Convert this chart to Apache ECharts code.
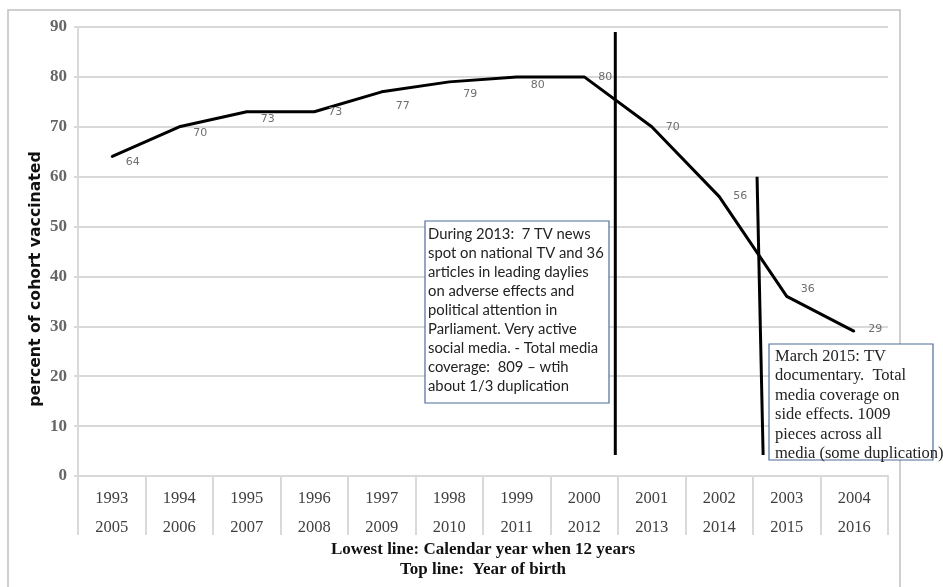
<!DOCTYPE html>
<html>
<head>
<meta charset="utf-8">
<script src="https://cdn.jsdelivr.net/npm/echarts@6/dist/echarts.min.js"></script>
<style>
  html, body { margin: 0; padding: 0; background: #ffffff; overflow: hidden; }
  #chart { width: 943px; height: 587px; }
</style>
</head>
<body>
<div id="chart"></div>
<script>
// Year of birth (upper row) and calendar year at age 12 (lower row)
const birthYears = ['1993', '1994', '1995', '1996', '1997', '1998', '1999', '2000', '2001', '2002', '2003', '2004'];
const calendarYears = ['2005', '2006', '2007', '2008', '2009', '2010', '2011', '2012', '2013', '2014', '2015', '2016'];

// Percent of each birth cohort vaccinated
const vaccinated = [64, 70, 73, 73, 77, 79, 80, 80, 70, 56, 36, 29];

// Y axis ticks
const yTicks = [0, 10, 20, 30, 40, 50, 60, 70, 80, 90];

// Event marker lines, in [category position, percent] units
const event2013Line = [[7.46, 89], [7.46, 4.2]];
const event2015Line = [[9.56, 60], [9.65, 4.2]];

// Annotation texts
const note2013 = [
  'During 2013:  7 TV news',
  'spot on national TV and 36',
  'articles in leading daylies',
  'on adverse effects and',
  'political attention in',
  'Parliament. Very active',
  'social media. - Total media',
  'coverage:  809 \u2013 wtih',
  'about 1/3 duplication'
];
const note2015 = [
  'March 2015: TV',
  'documentary.  Total',
  'media coverage on',
  'side effects. 1009',
  'pieces across all',
  'media (some duplication)'
];

// Vertical nudge (px) of each value label so none sits on the line
const labelNudgeY = [5, 6, 7, 0, 14, 12, 8, 0, 0, 0, -7, -2];

const chart = echarts.init(document.getElementById('chart'), null, { renderer: 'canvas', width: 943, height: 587 });

const gridColor = '#d9d9d9';
const serif = '"Liberation Serif", "Times New Roman", serif';

const lineData = vaccinated.map((v, i) => ({
  value: v,
  label: { offset: [0, labelNudgeY[i]] }
}));

const option = {
  backgroundColor: '#ffffff',
  animation: false,
  grid: { left: 78, width: 810, top: 27, height: 449, containLabel: false, outerBoundsMode: 'none' },
  xAxis: [
    {
      type: 'category',
      data: birthYears,
      boundaryGap: true,
      axisLine: { show: true, onZero: false, lineStyle: { color: gridColor, width: 2 } },
      axisTick: { show: true, length: 59, interval: 0, alignWithLabel: false, lineStyle: { color: gridColor, width: 2 } },
      axisLabel: {
        interval: 0,
        margin: 8,
        fontFamily: serif,
        fontSize: 16.5,
        color: '#404040',
        lineHeight: 29,
        formatter: (v, i) => v + '\n' + calendarYears[i]
      },
      name: 'Lowest line: Calendar year when 12 years\nTop line:  Year of birth',
      nameLocation: 'middle',
      nameGap: 64,
      nameMoveOverlap: false,
      nameTextStyle: { fontFamily: serif, fontWeight: 'bold', fontSize: 17, color: '#111', lineHeight: 20 }
    },
    {
      type: 'value',
      min: -0.5,
      max: 11.5,
      show: false
    }
  ],
  yAxis: {
    type: 'value',
    min: yTicks[0],
    max: yTicks[yTicks.length - 1],
    interval: 10,
    axisLine: { show: true, onZero: false, lineStyle: { color: gridColor, width: 2 } },
    axisTick: { show: true, length: 4, lineStyle: { color: gridColor, width: 2 } },
    splitLine: { show: true, lineStyle: { color: gridColor, width: 2 } },
    axisLabel: { margin: 11, fontFamily: serif, fontSize: 17, fontWeight: 'bold', color: '#666666' }
  },
  series: [
    {
      type: 'line',
      data: lineData,
      xAxisIndex: 0,
      symbol: 'circle',
      symbolSize: 2,
      showSymbol: true,
      itemStyle: { color: '#000' },
      lineStyle: { color: '#000', width: 3 },
      label: {
        show: true,
        position: 'right',
        distance: 13,
        fontFamily: '"DejaVu Sans", sans-serif',
        fontSize: 11,
        color: '#6e6e6e'
      },
      z: 3
    },
    {
      type: 'line',
      data: event2013Line,
      xAxisIndex: 1,
      symbol: 'none',
      silent: true,
      lineStyle: { color: '#000', width: 3 },
      z: 4
    },
    {
      type: 'line',
      data: event2015Line,
      xAxisIndex: 1,
      symbol: 'none',
      silent: true,
      lineStyle: { color: '#000', width: 3 },
      z: 4
    }
  ],
  graphic: [
    {
      type: 'rect',
      shape: { x: 8, y: 10, width: 892, height: 600 },
      style: { fill: 'none', stroke: '#c0c0c0', lineWidth: 1.5 },
      silent: true,
      z: -10
    },
    {
      type: 'text',
      x: 36,
      y: 279,
      rotation: Math.PI / 2,
      style: {
        text: 'percent of cohort vaccinated',
        font: 'bold 15.7px "DejaVu Sans", sans-serif',
        fill: '#111',
        textAlign: 'center',
        textVerticalAlign: 'middle'
      },
      z: 10
    },
    {
      type: 'rect',
      shape: { x: 425, y: 221, width: 184, height: 182 },
      style: { fill: '#ffffff', stroke: '#4f6d9a', lineWidth: 1.2 },
      z: 20
    },
    {
      type: 'text',
      x: 428,
      y: 225,
      style: {
        text: note2013.join('\n'),
        font: '14.8px Lato, "Open Sans", sans-serif',
        lineHeight: 19,
        fill: '#222'
      },
      z: 21
    },
    {
      type: 'rect',
      shape: { x: 769, y: 344, width: 164, height: 116 },
      style: { fill: '#ffffff', stroke: '#4f6d9a', lineWidth: 1.2 },
      z: 20
    },
    {
      type: 'text',
      x: 775,
      y: 347,
      style: {
        text: note2015.join('\n'),
        font: '16.5px "Liberation Serif", "Times New Roman", serif',
        lineHeight: 19.4,
        fill: '#222'
      },
      z: 21
    }
  ]
};

chart.setOption(option);
</script>
</body>
</html>
